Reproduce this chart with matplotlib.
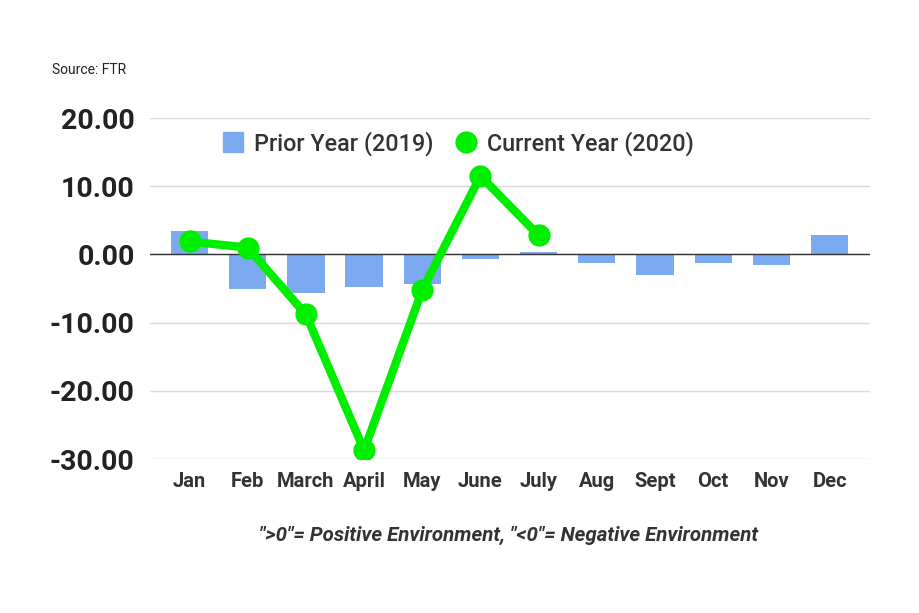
import matplotlib.pyplot as plt
from matplotlib.lines import Line2D
import numpy as np

plt.rcParams['font.family'] = ['Roboto', 'DejaVu Sans']

# data
months = ['Jan', 'Feb', 'March', 'April', 'May', 'June', 'July',
          'Aug', 'Sept', 'Oct', 'Nov', 'Dec']
prior_2019 = [3.5, -5.1, -5.7, -4.7, -4.3, -0.6, 0.3, -1.2, -3.0, -1.2, -1.5, 2.8]
current_2020 = [1.9, 1.0, -8.8, -28.7, -5.2, 11.5, 2.8]
yticks = [20, 10, 0, -10, -20, -30]

BAR_BLUE = '#7baaf0'
GREEN = '#00ee00'
TEXT = '#222222'

fig = plt.figure(figsize=(9.2, 6.13), dpi=100)
ax = fig.add_axes([0.163, 0.251, 0.783, 0.5565])

x = np.arange(len(months))
ax.bar(x, prior_2019, width=0.64, color=BAR_BLUE, zorder=2)
ax.plot(x[:len(current_2020)], current_2020, color=GREEN, lw=6,
        marker='o', markersize=15, zorder=3)

ax.axhline(0, color='#333333', lw=1, zorder=2.5)

ax.set_xlim(-0.68, 11.7)
ax.set_ylim(-30, 20)
ax.set_yticks(yticks)
ax.set_yticklabels(['%.2f' % v for v in yticks], fontsize=20.5,
                   fontweight='bold', color=TEXT)
ax.set_xticks(x)
ax.set_xticklabels(months, fontsize=14.5, fontweight='bold', color='#333333')
ax.tick_params(axis='y', length=0, pad=11)
ax.tick_params(axis='x', length=0, pad=9)

ax.grid(axis='y', color='#d9d9d9', lw=1, zorder=0)
for s in ax.spines.values():
    s.set_visible(False)

handles = [
    Line2D([], [], ls='none', marker='s', markersize=14, color=BAR_BLUE),
    Line2D([], [], ls='none', marker='o', markersize=15, color=GREEN),
]
leg = ax.legend(handles, ['Prior Year (2019)', 'Current Year (2020)'],
                loc='center left', bbox_to_anchor=(0.073, 0.925), ncol=2,
                frameon=False, fontsize=16.8, handlelength=0.8,
                columnspacing=1.0, handletextpad=0.5)
for t in leg.get_texts():
    t.set_color('#333333')
    t.set_fontweight('medium')

fig.text(0.057, 0.88, 'Source: FTR', fontsize=10, color=TEXT)
fig.text(0.553, 0.127, '">0"= Positive Environment, "<0"= Negative Environment',
         fontsize=14.8, fontstyle='italic', fontweight='bold', color='#333333',
         ha='center', va='center')

fig.savefig('out.png', dpi=100, facecolor='white')
